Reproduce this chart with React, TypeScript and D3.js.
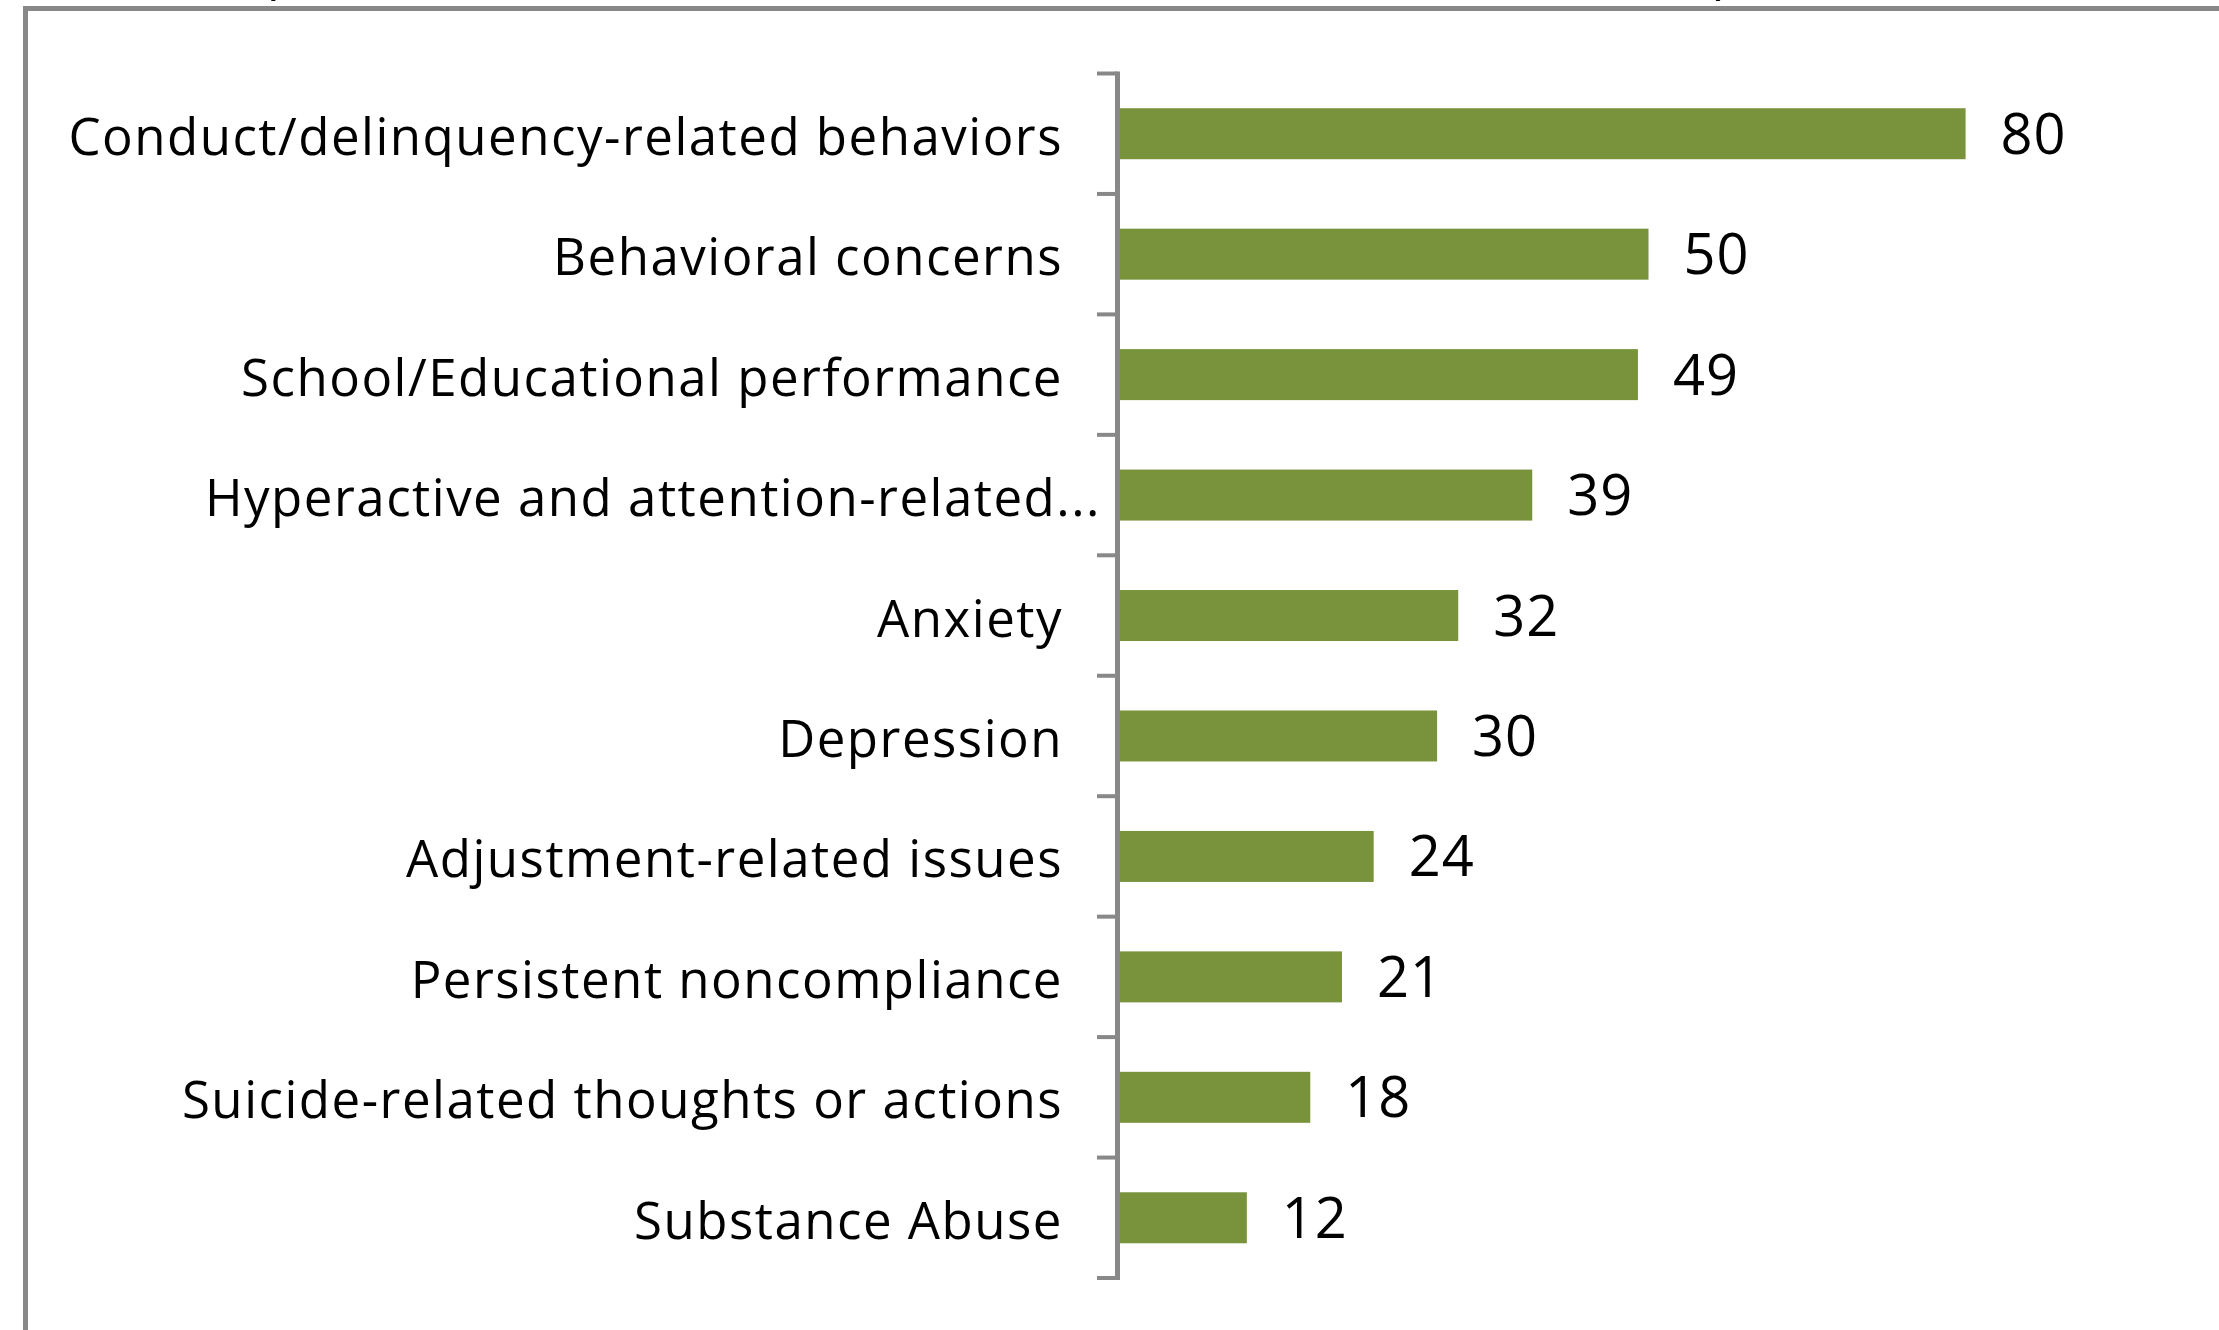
import React from "react";
import * as d3 from "d3";

const categories: string[] = [
  "Conduct/delinquency-related behaviors",
  "Behavioral concerns",
  "School/Educational performance",
  "Hyperactive and attention-related...",
  "Anxiety",
  "Depression",
  "Adjustment-related issues",
  "Persistent noncompliance",
  "Suicide-related thoughts or actions",
  "Substance Abuse",
];
const values: number[] = [80, 50, 49, 39, 32, 30, 24, 21, 18, 12];
const titleFragments: string[] = ["(", ")"];

const W = 2219;
const H = 1330;
const AXIS_X = 1117.5;
const GREY = "#888888";
const BAR = "#78933C";
const FONT = "'Open Sans', 'Noto Sans', sans-serif";

export default function App() {
  const y = d3
    .scaleBand<string>()
    .domain(categories)
    .range([73.5, 1278])
    .paddingInner(0.5766)
    .paddingOuter(0.5766 / 2);
  const x = d3.scaleLinear().domain([0, 90]).range([1120, 1120 + 90 * 10.57]);
  const step = y.step();
  const bandStart = 73.5;
  const tickYs = d3.range(categories.length + 1).map((i) => bandStart + i * step);

  return (
    <svg
      width={W}
      height={H}
      viewBox={`0 0 ${W} ${H}`}
      style={{ position: "absolute", left: 0, top: 0, background: "#fff" }}
    >
      <rect x={0} y={0} width={W} height={H} fill="#fff" />
      {/* clipped title fragments peeking at top */}
      <text x={262} y={-7} fontFamily={FONT} fontSize={52} fill="#000">
        {titleFragments[0]}
      </text>
      <text x={1714} y={-7} fontFamily={FONT} fontSize={52} fill="#000">
        {titleFragments[1]}
      </text>
      {/* frame */}
      <rect x={25.5} y={8.5} width={2400} height={1500} fill="none" stroke={GREY} strokeWidth={5} />
      {/* bars */}
      {categories.map((c, i) => (
        <rect
          key={c}
          x={x(0)}
          y={y(c)!}
          width={x(values[i]) - x(0)}
          height={y.bandwidth()}
          fill={BAR}
        />
      ))}
      {/* axis */}
      <line x1={AXIS_X} x2={AXIS_X} y1={tickYs[0] - 2} y2={tickYs[tickYs.length - 1] + 2} stroke={GREY} strokeWidth={5} />
      {tickYs.map((ty, i) => (
        <line key={i} x1={1097} x2={AXIS_X} y1={ty} y2={ty} stroke={GREY} strokeWidth={4} />
      ))}
      {/* category labels */}
      {categories.map((c) => {
        const cy = y(c)! + y.bandwidth() / 2;
        const truncated = c.endsWith("...");
        return (
          <text
            key={c}
            x={truncated ? 1101 : 1063}
            y={cy + 21}
            textAnchor="end"
            fontFamily={FONT}
            fontSize={51}
            letterSpacing={1.5}
            fill="#000"
          >
            {c}
          </text>
        );
      })}
      {/* value labels */}
      {categories.map((c, i) => {
        const cy = y(c)! + y.bandwidth() / 2;
        return (
          <text
            key={c + "v"}
            x={x(values[i]) + 35}
            y={cy + 20}
            fontFamily={FONT}
            fontSize={56}
            letterSpacing={1}
            fill="#000"
          >
            {values[i]}
          </text>
        );
      })}
    </svg>
  );
}
